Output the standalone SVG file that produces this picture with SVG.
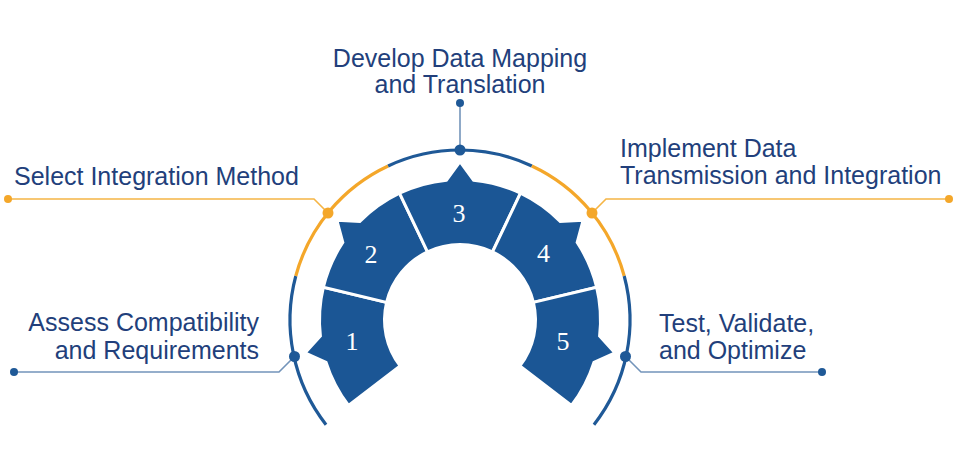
<svg xmlns="http://www.w3.org/2000/svg" width="957" height="470" viewBox="0 0 957 470">
<defs>
<style>
.lbl{font-family:"Liberation Sans",Arial,sans-serif;font-size:25px;fill:#223f7b}
.num{font-family:"Liberation Serif","Times New Roman",serif;font-size:26px;fill:#ffffff;text-anchor:middle}
.wedge{fill:#1b5695;stroke:#ffffff;stroke-width:3;stroke-linejoin:miter}
.ring-b{fill:none;stroke:#1f5997;stroke-width:3.2}
.ring-o{fill:none;stroke:#f4a72a;stroke-width:3.2}
.ln-b{fill:none;stroke:#7394ba;stroke-width:1.6}
.ln-o{fill:none;stroke:#f5b545;stroke-width:1.6}
.dot-b{fill:#1f5997}
.dot-o{fill:#f4a72a}
</style>
<path id="wedge" class="wedge" d="M-60.49 -126.82 A140.5 140.5 0 0 1 -13.47 -139.85 L0 -158.5 L13.47 -139.85 A140.5 140.5 0 0 1 60.49 -126.82 L32.5 -68.15 A75.5 75.5 0 0 0 -32.5 -68.15 Z"/>
</defs>
<rect width="957" height="470" fill="#ffffff"/>

<g id="ring">
<path class="ring-b" d="M326.04 424.66 A170 170 0 0 1 295.79 276"/>
<path class="ring-o" d="M295.79 276 A170 170 0 0 1 388.15 165.93"/>
<path class="ring-b" d="M388.15 165.93 A170 170 0 0 1 531.85 165.93"/>
<path class="ring-o" d="M531.85 165.93 A170 170 0 0 1 624.21 276"/>
<path class="ring-b" d="M624.21 276 A170 170 0 0 1 593.96 424.66"/>
</g>

<g id="connectors">
<path class="ln-b" d="M294.5 356.5 L279 372 L14 372"/>
<circle class="dot-b" cx="14" cy="372" r="4"/>
<circle class="dot-b" cx="294.5" cy="356.5" r="5.5"/>

<path class="ln-o" d="M328 213 L314 199 L8 199"/>
<circle class="dot-o" cx="8" cy="199" r="4"/>
<circle class="dot-o" cx="328" cy="213" r="5.5"/>

<path class="ln-b" d="M460 150 L460 103"/>
<circle class="dot-b" cx="460" cy="103" r="4"/>
<circle class="dot-b" cx="460" cy="150" r="5.5"/>

<path class="ln-o" d="M592 213 L606 199 L949 199"/>
<circle class="dot-o" cx="949" cy="199" r="4"/>
<circle class="dot-o" cx="592" cy="213" r="5.5"/>

<path class="ln-b" d="M625.5 356.5 L641 372 L822 372"/>
<circle class="dot-b" cx="822" cy="372" r="4"/>
<circle class="dot-b" cx="625.5" cy="356.5" r="5.5"/>
</g>

<g id="step1">
<use href="#wedge" transform="translate(460 320) rotate(-102)"/>
<text class="num" x="352" y="350">1</text>
<text class="lbl" x="259" y="331" text-anchor="end">Assess Compatibility</text>
<text class="lbl" x="259" y="358.5" text-anchor="end">and Requirements</text>
</g>

<g id="step2">
<use href="#wedge" transform="translate(460 320) rotate(-51)"/>
<text class="num" x="371" y="263">2</text>
<text class="lbl" x="14" y="185">Select Integration Method</text>
</g>

<g id="step3">
<use href="#wedge" transform="translate(460 320)"/>
<text class="num" x="459" y="222">3</text>
<text class="lbl" x="460" y="67" text-anchor="middle">Develop Data Mapping</text>
<text class="lbl" x="460" y="93.3" text-anchor="middle">and Translation</text>
</g>

<g id="step4">
<use href="#wedge" transform="translate(460 320) rotate(51)"/>
<text class="num" x="543.5" y="262">4</text>
<text class="lbl" x="620" y="157">Implement Data</text>
<text class="lbl" x="620" y="184">Transmission and Integration</text>
</g>

<g id="step5">
<use href="#wedge" transform="translate(460 320) rotate(102)"/>
<text class="num" x="563" y="350">5</text>
<text class="lbl" x="659" y="332">Test, Validate,</text>
<text class="lbl" x="659" y="359">and Optimize</text>
</g>
</svg>
